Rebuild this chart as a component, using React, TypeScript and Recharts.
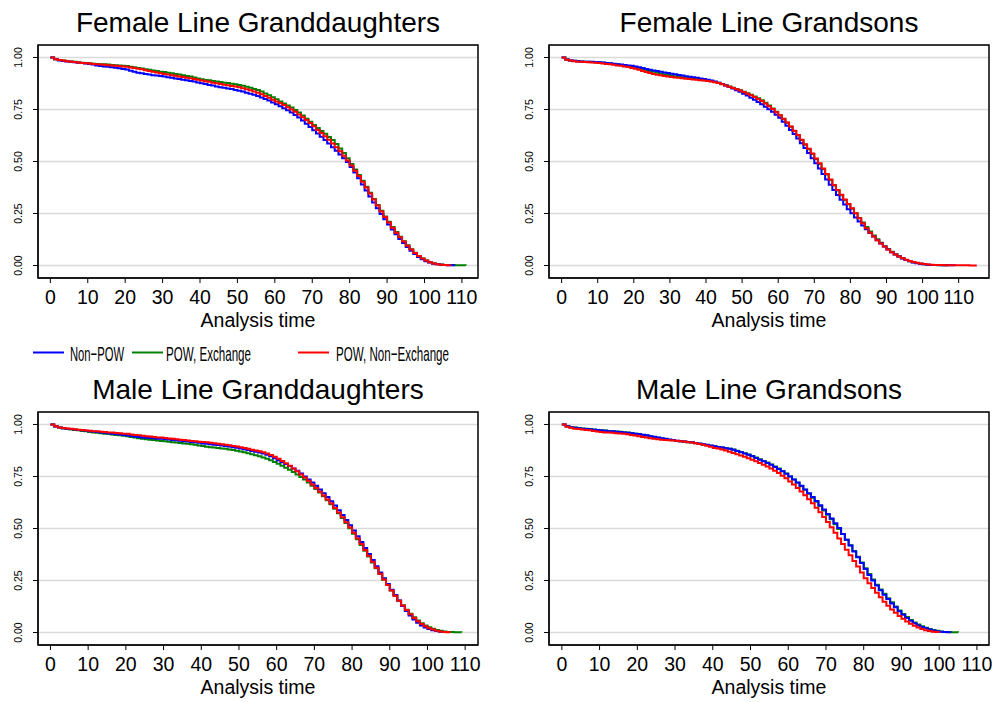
import React from "react";
import { LineChart, Line, XAxis, YAxis, CartesianGrid, ReferenceArea } from "recharts";

// Kaplan-Meier survival by age, one value per year of analysis time (index = age).
// Series order: Non-POW, POW Exchange, POW Non-Exchange.

const AGE_TICKS = [0, 10, 20, 30, 40, 50, 60, 70, 80, 90, 100, 110];
const SURV_TICKS = [0, 0.25, 0.5, 0.75, 1];
const SERIES_NAMES = ["Non\u2212POW", "POW, Exchange", "POW, Non\u2212Exchange"];
const COLORS = ["#0000ff", "#008000", "#ff0000"];

// Female Line Granddaughters
const fgdNonPow = [
  1.0, 0.991, 0.986, 0.983, 0.981, 0.979, 0.977, 0.975, 0.973, 0.971, 0.969,
  0.966, 0.962, 0.959, 0.957, 0.955, 0.953, 0.951, 0.948, 0.945, 0.942,
  0.936, 0.931, 0.927, 0.924, 0.921, 0.918, 0.915, 0.913, 0.911, 0.908,
  0.905, 0.902, 0.899, 0.896, 0.893, 0.89, 0.887, 0.884, 0.88, 0.876,
  0.872, 0.868, 0.865, 0.861, 0.857, 0.854, 0.851, 0.848, 0.844, 0.84,
  0.836, 0.831, 0.826, 0.821, 0.815, 0.808, 0.801, 0.793, 0.784, 0.775,
  0.766, 0.756, 0.746, 0.735, 0.724, 0.711, 0.697, 0.682, 0.666, 0.65,
  0.635, 0.619, 0.603, 0.586, 0.569, 0.552, 0.534, 0.516, 0.497, 0.474,
  0.447, 0.419, 0.39, 0.361, 0.332, 0.303, 0.275, 0.248, 0.222, 0.197,
  0.173, 0.15, 0.128, 0.108, 0.089, 0.071, 0.055, 0.041, 0.03, 0.021,
  0.014, 0.009, 0.006, 0.004, 0.002, 0.001, 0.001, 0.0,
];
const fgdPowEx = [
  1.0, 0.992, 0.988, 0.985, 0.983, 0.981, 0.979, 0.977, 0.975, 0.973, 0.972,
  0.97, 0.969, 0.968, 0.967, 0.966, 0.964, 0.963, 0.962, 0.96, 0.959,
  0.956, 0.953, 0.95, 0.947, 0.944, 0.941, 0.938, 0.935, 0.932, 0.93,
  0.927, 0.924, 0.921, 0.918, 0.915, 0.911, 0.908, 0.904, 0.899, 0.895,
  0.892, 0.89, 0.887, 0.884, 0.882, 0.879, 0.877, 0.874, 0.871, 0.868,
  0.864, 0.859, 0.854, 0.849, 0.844, 0.836, 0.827, 0.818, 0.809, 0.799,
  0.789, 0.779, 0.769, 0.759, 0.748, 0.735, 0.721, 0.706, 0.691, 0.675,
  0.661, 0.647, 0.633, 0.618, 0.603, 0.584, 0.563, 0.541, 0.516, 0.488,
  0.462, 0.435, 0.407, 0.379, 0.35, 0.32, 0.291, 0.263, 0.236, 0.21,
  0.185, 0.161, 0.138, 0.117, 0.097, 0.078, 0.061, 0.046, 0.034, 0.024,
  0.016, 0.011, 0.007, 0.005, 0.003, 0.002, 0.002, 0.001, 0.001, 0.001, 0.0,
];
const fgdPowNonEx = [
  1.0, 0.992, 0.988, 0.985, 0.982, 0.98, 0.978, 0.976, 0.974, 0.972, 0.971,
  0.969, 0.968, 0.966, 0.965, 0.963, 0.962, 0.96, 0.959, 0.957, 0.955,
  0.952, 0.949, 0.946, 0.943, 0.939, 0.935, 0.932, 0.928, 0.924, 0.921,
  0.918, 0.915, 0.912, 0.909, 0.906, 0.903, 0.9, 0.897, 0.893, 0.889,
  0.886, 0.883, 0.879, 0.876, 0.872, 0.869, 0.866, 0.863, 0.86, 0.857,
  0.852, 0.847, 0.842, 0.837, 0.831, 0.823, 0.815, 0.806, 0.797, 0.788,
  0.78, 0.771, 0.761, 0.75, 0.739, 0.726, 0.713, 0.699, 0.685, 0.67,
  0.652, 0.637, 0.621, 0.604, 0.587, 0.569, 0.549, 0.528, 0.505, 0.481,
  0.456, 0.43, 0.403, 0.375, 0.346, 0.317, 0.288, 0.26, 0.233, 0.207,
  0.182, 0.158, 0.136, 0.115, 0.095, 0.077, 0.06, 0.046, 0.034, 0.024,
  0.016, 0.01, 0.006, 0.004, 0.002, 0.001, 0.0,
];

// Female Line Grandsons
const fgsNonPow = [
  1.0, 0.99, 0.986, 0.984, 0.982, 0.981, 0.98, 0.979, 0.979, 0.978, 0.977,
  0.976, 0.974, 0.972, 0.97, 0.968, 0.966, 0.964, 0.962, 0.96, 0.957,
  0.953, 0.949, 0.945, 0.941, 0.938, 0.935, 0.932, 0.928, 0.925, 0.922,
  0.919, 0.916, 0.913, 0.91, 0.907, 0.905, 0.902, 0.899, 0.896, 0.893,
  0.889, 0.884, 0.879, 0.872, 0.865, 0.858, 0.851, 0.843, 0.835, 0.826,
  0.817, 0.807, 0.797, 0.786, 0.775, 0.763, 0.751, 0.739, 0.725, 0.71,
  0.691, 0.672, 0.652, 0.632, 0.611, 0.588, 0.565, 0.541, 0.516, 0.491,
  0.466, 0.44, 0.414, 0.388, 0.363, 0.339, 0.316, 0.293, 0.271, 0.251,
  0.231, 0.211, 0.192, 0.174, 0.156, 0.139, 0.122, 0.106, 0.091, 0.077,
  0.064, 0.053, 0.043, 0.034, 0.026, 0.02, 0.015, 0.011, 0.008, 0.006,
  0.004, 0.003, 0.002, 0.002, 0.001, 0.001, 0.001, 0.001, 0.0,
];
const fgsPowEx = [
  1.0, 0.99, 0.986, 0.984, 0.982, 0.981, 0.98, 0.979, 0.978, 0.977, 0.976,
  0.975, 0.973, 0.971, 0.969, 0.967, 0.964, 0.962, 0.959, 0.956, 0.952,
  0.948, 0.943, 0.939, 0.935, 0.931, 0.927, 0.923, 0.919, 0.916, 0.913,
  0.91, 0.907, 0.905, 0.902, 0.9, 0.898, 0.896, 0.894, 0.891, 0.889,
  0.886, 0.882, 0.878, 0.872, 0.866, 0.86, 0.854, 0.848, 0.842, 0.835,
  0.828, 0.821, 0.813, 0.804, 0.794, 0.782, 0.769, 0.755, 0.739, 0.722,
  0.704, 0.686, 0.667, 0.647, 0.625, 0.603, 0.581, 0.559, 0.536, 0.512,
  0.488, 0.463, 0.437, 0.411, 0.385, 0.361, 0.338, 0.315, 0.294, 0.273,
  0.251, 0.229, 0.207, 0.185, 0.164, 0.144, 0.126, 0.109, 0.093, 0.079,
  0.066, 0.054, 0.044, 0.035, 0.027, 0.021, 0.016, 0.012, 0.009, 0.006,
  0.004, 0.003, 0.002, 0.001, 0.001, 0.001, 0.0,
];
const fgsPowNonEx = [
  1.0, 0.989, 0.985, 0.982, 0.98, 0.979, 0.978, 0.977, 0.976, 0.975, 0.973,
  0.971, 0.969, 0.967, 0.965, 0.962, 0.96, 0.957, 0.954, 0.95, 0.946,
  0.941, 0.935, 0.93, 0.925, 0.921, 0.917, 0.914, 0.911, 0.908, 0.906,
  0.904, 0.902, 0.9, 0.898, 0.896, 0.894, 0.893, 0.891, 0.889, 0.887,
  0.884, 0.881, 0.877, 0.871, 0.865, 0.859, 0.853, 0.847, 0.841, 0.834,
  0.826, 0.818, 0.81, 0.801, 0.791, 0.779, 0.766, 0.752, 0.737, 0.722,
  0.705, 0.687, 0.668, 0.648, 0.627, 0.605, 0.583, 0.561, 0.538, 0.515,
  0.491, 0.466, 0.44, 0.413, 0.387, 0.363, 0.34, 0.317, 0.296, 0.275,
  0.251, 0.227, 0.203, 0.179, 0.157, 0.139, 0.122, 0.106, 0.091, 0.077,
  0.064, 0.053, 0.043, 0.035, 0.028, 0.022, 0.017, 0.013, 0.01, 0.007,
  0.005, 0.004, 0.003, 0.002, 0.002, 0.001, 0.001, 0.001, 0.001, 0.001,
  0.001, 0.001, 0.0, 0.0, 0.0,
];

// Male Line Granddaughters
const mgdNonPow = [
  1.0, 0.99, 0.985, 0.982, 0.98, 0.978, 0.976, 0.974, 0.972, 0.97, 0.968,
  0.966, 0.964, 0.962, 0.96, 0.958, 0.956, 0.954, 0.952, 0.95, 0.947,
  0.945, 0.942, 0.94, 0.938, 0.936, 0.935, 0.934, 0.932, 0.931, 0.93,
  0.928, 0.926, 0.924, 0.922, 0.92, 0.918, 0.916, 0.914, 0.912, 0.909,
  0.907, 0.905, 0.903, 0.901, 0.899, 0.897, 0.894, 0.891, 0.888, 0.884,
  0.881, 0.877, 0.873, 0.869, 0.865, 0.86, 0.854, 0.847, 0.838, 0.828,
  0.819, 0.81, 0.8, 0.789, 0.777, 0.764, 0.75, 0.736, 0.721, 0.705,
  0.688, 0.67, 0.651, 0.631, 0.61, 0.588, 0.565, 0.541, 0.516, 0.49,
  0.463, 0.435, 0.406, 0.377, 0.348, 0.318, 0.289, 0.261, 0.233, 0.206,
  0.18, 0.154, 0.128, 0.104, 0.082, 0.063, 0.047, 0.034, 0.024, 0.017,
  0.011, 0.007, 0.004, 0.002, 0.0,
];
const mgdPowEx = [
  1.0, 0.99, 0.985, 0.981, 0.978, 0.976, 0.974, 0.972, 0.969, 0.967, 0.964,
  0.962, 0.96, 0.958, 0.956, 0.954, 0.952, 0.95, 0.948, 0.946, 0.943,
  0.94, 0.937, 0.934, 0.932, 0.929, 0.927, 0.925, 0.923, 0.921, 0.919,
  0.917, 0.915, 0.913, 0.911, 0.909, 0.907, 0.905, 0.902, 0.899, 0.896,
  0.893, 0.891, 0.889, 0.887, 0.885, 0.883, 0.88, 0.877, 0.874, 0.87,
  0.866, 0.862, 0.857, 0.852, 0.847, 0.841, 0.835, 0.828, 0.82, 0.811,
  0.802, 0.792, 0.782, 0.771, 0.76, 0.748, 0.735, 0.721, 0.706, 0.69,
  0.673, 0.655, 0.636, 0.616, 0.595, 0.573, 0.55, 0.526, 0.501, 0.475,
  0.448, 0.421, 0.393, 0.365, 0.337, 0.309, 0.281, 0.254, 0.228, 0.202,
  0.177, 0.153, 0.131, 0.11, 0.09, 0.073, 0.058, 0.045, 0.034, 0.025,
  0.018, 0.012, 0.008, 0.005, 0.003, 0.002, 0.001, 0.001, 0.0,
];
const mgdPowNonEx = [
  1.0, 0.991, 0.986, 0.983, 0.981, 0.979, 0.977, 0.975, 0.973, 0.971, 0.97,
  0.968, 0.967, 0.965, 0.964, 0.962, 0.961, 0.959, 0.958, 0.956, 0.955,
  0.952, 0.95, 0.948, 0.946, 0.944, 0.942, 0.94, 0.938, 0.937, 0.935,
  0.933, 0.931, 0.929, 0.927, 0.925, 0.923, 0.921, 0.919, 0.917, 0.916,
  0.914, 0.912, 0.91, 0.907, 0.905, 0.902, 0.9, 0.897, 0.894, 0.89,
  0.887, 0.883, 0.879, 0.875, 0.871, 0.866, 0.86, 0.853, 0.845, 0.835,
  0.825, 0.814, 0.802, 0.789, 0.775, 0.76, 0.745, 0.729, 0.712, 0.695,
  0.677, 0.659, 0.64, 0.62, 0.599, 0.577, 0.554, 0.53, 0.505, 0.479,
  0.452, 0.425, 0.397, 0.369, 0.34, 0.311, 0.283, 0.255, 0.228, 0.202,
  0.177, 0.153, 0.13, 0.108, 0.088, 0.07, 0.054, 0.041, 0.03, 0.021,
  0.014, 0.009, 0.005, 0.003, 0.001, 0.0,
];

// Male Line Grandsons
const mgsNonPow = [
  1.0, 0.991, 0.987, 0.984, 0.982, 0.98, 0.978, 0.977, 0.975, 0.973, 0.971,
  0.97, 0.968, 0.967, 0.965, 0.964, 0.962, 0.96, 0.958, 0.956, 0.954,
  0.951, 0.948, 0.944, 0.941, 0.937, 0.934, 0.931, 0.928, 0.925, 0.922,
  0.92, 0.918, 0.916, 0.914, 0.911, 0.908, 0.905, 0.902, 0.899, 0.895,
  0.892, 0.889, 0.886, 0.883, 0.879, 0.873, 0.867, 0.861, 0.854, 0.847,
  0.839, 0.831, 0.823, 0.815, 0.806, 0.796, 0.786, 0.775, 0.763, 0.75,
  0.736, 0.721, 0.705, 0.688, 0.67, 0.651, 0.632, 0.612, 0.591, 0.57,
  0.548, 0.525, 0.502, 0.474, 0.446, 0.418, 0.39, 0.362, 0.334, 0.305,
  0.277, 0.25, 0.226, 0.203, 0.182, 0.161, 0.14, 0.121, 0.102, 0.085,
  0.07, 0.056, 0.044, 0.034, 0.027, 0.02, 0.014, 0.01, 0.006, 0.004,
  0.002, 0.001, 0.0,
];
const mgsPowEx = [
  1.0, 0.991, 0.987, 0.985, 0.983, 0.981, 0.979, 0.978, 0.976, 0.974, 0.972,
  0.971, 0.969, 0.968, 0.966, 0.965, 0.963, 0.961, 0.959, 0.956, 0.953,
  0.95, 0.947, 0.943, 0.94, 0.936, 0.933, 0.93, 0.927, 0.924, 0.921,
  0.919, 0.917, 0.915, 0.913, 0.91, 0.907, 0.904, 0.901, 0.898, 0.895,
  0.892, 0.889, 0.886, 0.883, 0.88, 0.874, 0.868, 0.862, 0.856, 0.849,
  0.841, 0.833, 0.825, 0.817, 0.808, 0.798, 0.788, 0.776, 0.764, 0.75,
  0.735, 0.72, 0.703, 0.686, 0.667, 0.648, 0.628, 0.608, 0.587, 0.566,
  0.544, 0.521, 0.498, 0.473, 0.446, 0.419, 0.392, 0.364, 0.337, 0.309,
  0.281, 0.255, 0.23, 0.207, 0.186, 0.165, 0.145, 0.125, 0.106, 0.089,
  0.074, 0.06, 0.048, 0.038, 0.03, 0.023, 0.017, 0.012, 0.008, 0.005,
  0.003, 0.002, 0.001, 0.001, 0.0,
];
const mgsPowNonEx = [
  1.0, 0.989, 0.984, 0.98, 0.978, 0.976, 0.974, 0.972, 0.969, 0.966, 0.964,
  0.962, 0.961, 0.96, 0.958, 0.957, 0.955, 0.953, 0.95, 0.947, 0.943,
  0.94, 0.937, 0.934, 0.931, 0.929, 0.927, 0.925, 0.924, 0.923, 0.922,
  0.92, 0.918, 0.915, 0.913, 0.91, 0.906, 0.902, 0.898, 0.893, 0.887,
  0.884, 0.88, 0.875, 0.869, 0.863, 0.857, 0.851, 0.845, 0.838, 0.831,
  0.823, 0.815, 0.807, 0.798, 0.788, 0.778, 0.767, 0.754, 0.741, 0.726,
  0.711, 0.695, 0.678, 0.66, 0.641, 0.621, 0.6, 0.578, 0.555, 0.531,
  0.506, 0.479, 0.452, 0.425, 0.398, 0.371, 0.344, 0.317, 0.289, 0.261,
  0.237, 0.214, 0.191, 0.169, 0.148, 0.129, 0.111, 0.095, 0.08, 0.066,
  0.053, 0.042, 0.032, 0.024, 0.017, 0.011, 0.007, 0.004, 0.002, 0.0,
];

const FONT = '"Liberation Sans", Arial, Helvetica, sans-serif';

function toRows(a: number[], b: number[], c: number[]) {
  const n = Math.max(a.length, b.length, c.length);
  return Array.from({ length: n }, (_, t) => ({ t, a: a[t], b: b[t], c: c[t] }));
}

const YTick = (props: any) => {
  const { x, y, payload } = props;
  return (
    <text
      x={x}
      y={y}
      transform={`rotate(-90 ${x} ${y})`}
      textAnchor="middle"
      fontSize={10.5}
      fill="#000"
    >
      {Number(payload.value).toFixed(2)}
    </text>
  );
};

const Y_DOMAIN: [number, number] = [-0.06, 1.06];

// drawing order: exchange first so non-POW and non-exchange sit on top
const DRAW_ORDER = [1, 0, 2];

function Panel({
  title,
  left,
  top,
  xDomain,
  series,
}: {
  title: string;
  left: number;
  top: number;
  xDomain: [number, number];
  series: [number[], number[], number[]];
}) {
  const rows = toRows(series[0], series[1], series[2]);
  const keys = ["a", "b", "c"];
  return (
    <div style={{ position: "absolute", left, top, width: 500, height: 340 }}>
      <LineChart width={500} height={340} data={rows} margin={{ top: 45, right: 22, bottom: 0, left: 0 }}>
        <CartesianGrid vertical={false} stroke="#dadada" strokeWidth={1.5} />
        <XAxis
          type="number"
          dataKey="t"
          domain={xDomain}
          ticks={AGE_TICKS}
          interval={0}
          allowDataOverflow
          height={62}
          tickSize={5}
          tickMargin={7}
          stroke="#000"
          tick={{ fontSize: 19.5, fill: "#000" }}
          label={{ value: "Analysis time", position: "insideBottom", offset: 13, fontSize: 19.5, fill: "#000" }}
        />
        <YAxis
          type="number"
          domain={Y_DOMAIN}
          ticks={SURV_TICKS}
          interval={0}
          allowDataOverflow
          width={38}
          tickSize={5}
          tickMargin={11}
          stroke="#000"
          tick={YTick}
        />
        {DRAW_ORDER.map((i) => (
          <Line
            key={keys[i]}
            type="stepAfter"
            dataKey={keys[i]}
            stroke={COLORS[i]}
            strokeWidth={2}
            dot={false}
            activeDot={false}
            isAnimationActive={false}
          />
        ))}
        <ReferenceArea
          x1={xDomain[0]}
          x2={xDomain[1]}
          y1={Y_DOMAIN[0]}
          y2={Y_DOMAIN[1]}
          fill="none"
          fillOpacity={0}
          stroke="#000"
          strokeWidth={1.5}
          ifOverflow="visible"
        />
      </LineChart>
      <div
        style={{
          position: "absolute",
          left: 38,
          top: 9,
          width: 440,
          textAlign: "center",
          fontSize: 28,
          lineHeight: "28px",
          color: "#000",
        }}
      >
        {title}
      </div>
    </div>
  );
}

function LegendRow() {
  const keyX = [33, 132, 298];
  const textX = [70, 166, 336];
  const textW = [54, 85, 113];
  return (
    <svg style={{ position: "absolute", left: 0, top: 335 }} width={997} height={35}>
      {SERIES_NAMES.map((name, i) => (
        <g key={name}>
          <line x1={keyX[i]} x2={keyX[i] + 31} y1={17.5} y2={17.5} stroke={COLORS[i]} strokeWidth={2} />
          <text
            x={textX[i]}
            y={25.5}
            fontSize={21}
            fill="#000"
            textLength={textW[i]}
            lengthAdjust="spacingAndGlyphs"
          >
            {name}
          </text>
        </g>
      ))}
    </svg>
  );
}

export default function App() {
  return (
    <div
      style={{
        position: "absolute",
        left: 0,
        top: 0,
        width: 997,
        height: 702,
        background: "#fff",
        fontFamily: FONT,
        overflow: "hidden",
      }}
    >
      <Panel
        title="Female Line Granddaughters"
        left={0}
        top={0}
        xDomain={[-3.3, 114.3]}
        series={[fgdNonPow, fgdPowEx, fgdPowNonEx]}
      />
      <Panel
        title="Female Line Grandsons"
        left={511}
        top={0}
        xDomain={[-3.5, 118.4]}
        series={[fgsNonPow, fgsPowEx, fgsPowNonEx]}
      />
      <LegendRow />
      <Panel
        title="Male Line Granddaughters"
        left={0}
        top={367}
        xDomain={[-3.3, 113.4]}
        series={[mgdNonPow, mgdPowEx, mgdPowNonEx]}
      />
      <Panel
        title="Male Line Grandsons"
        left={511}
        top={367}
        xDomain={[-3.4, 113.2]}
        series={[mgsNonPow, mgsPowEx, mgsPowNonEx]}
      />
    </div>
  );
}
